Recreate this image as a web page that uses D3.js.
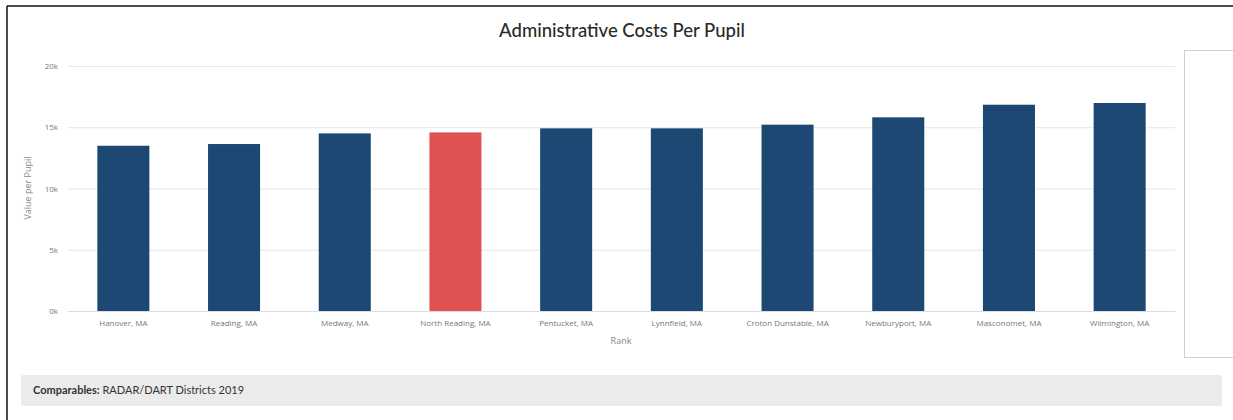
<!DOCTYPE html>
<html>
<head>
<meta charset="utf-8">
<script src="https://cdn.jsdelivr.net/npm/d3@7"></script>
<style>
  html, body { margin: 0; padding: 0; background: #fff; }
  svg { display: block; }
</style>
</head>
<body>
<svg id="chart" width="1233" height="420"></svg>
<script>
const categories = ["Hanover, MA", "Reading, MA", "Medway, MA", "North Reading, MA", "Pentucket, MA",
  "Lynnfield, MA", "Croton Dunstable, MA", "Newburyport, MA", "Masconomet, MA", "Wilmington, MA"];
const values = [13490, 13630, 14500, 14580, 14910, 14910, 15210, 15810, 16840, 16980];
const highlight = "North Reading, MA";
const yTicks = [0, 5000, 10000, 15000, 20000];
const yTickLabels = ["0k", "5k", "10k", "15k", "20k"];

const svg = d3.select("#chart");
const font = "Lato, 'Open Sans', sans-serif";
const smallFont = "'Open Sans', sans-serif";

// outer frame (left and top edges)
svg.append("line").attr("x1", 7).attr("x2", 7).attr("y1", 6).attr("y2", 420)
  .attr("stroke", "#111").attr("stroke-width", 1.5);
svg.append("line").attr("x1", 7).attr("x2", 1233).attr("y1", 6).attr("y2", 6)
  .attr("stroke", "#111").attr("stroke-width", 1.5);

// right side panel
svg.append("rect").attr("x", 1184.5).attr("y", 50.5).attr("width", 60).attr("height", 307)
  .attr("fill", "#fff").attr("stroke", "#cfcfcf").attr("stroke-width", 1);

const x = d3.scaleBand().domain(categories).range([68, 1175]).paddingInner(0.53).paddingOuter(0.265);
const y = d3.scaleLinear().domain([0, 20000]).range([311, 66]);

// title
svg.append("text").attr("x", 622).attr("y", 37).attr("text-anchor", "middle")
  .attr("font-family", font).attr("font-size", 18.5).attr("font-weight", 500).attr("fill", "#2a2a2a")
  .text("Administrative Costs Per Pupil");

// gridlines
const yAxis = d3.axisLeft(y).tickValues(yTicks).tickSize(-(1175 - 68))
  .tickFormat((d, i) => yTickLabels[i]).tickPadding(10);
const gy = svg.append("g").attr("transform", "translate(68,0)").call(yAxis);
gy.select(".domain").remove();
gy.selectAll(".tick line").attr("stroke", "#e6e6e6").attr("stroke-width", 1);
gy.selectAll(".tick text").attr("font-family", smallFont).attr("font-size", 8)
  .attr("fill", "#777").attr("x", -10);

// bars
svg.append("g").selectAll("rect").data(categories).join("rect")
  .attr("x", d => x(d))
  .attr("width", x.bandwidth())
  .attr("y", (d, i) => y(values[i]))
  .attr("height", (d, i) => y(0) - y(values[i]))
  .attr("fill", d => d === highlight ? "#e05252" : "#1c4873");

// x axis
const xAxis = d3.axisBottom(x).tickSize(0).tickPadding(9);
const gx = svg.append("g").attr("transform", "translate(0,311)").call(xAxis);
gx.select(".domain").attr("stroke", "#d8dde6").attr("stroke-width", 1);
gx.selectAll(".tick text").attr("font-family", smallFont).attr("font-size", 8).attr("fill", "#777");

// axis titles
svg.append("text").attr("transform", "translate(31,188) rotate(-90)").attr("text-anchor", "middle")
  .attr("font-family", smallFont).attr("font-size", 9).attr("fill", "#888").text("Value per Pupil");
svg.append("text").attr("x", 621).attr("y", 344).attr("text-anchor", "middle")
  .attr("font-family", smallFont).attr("font-size", 9).attr("fill", "#888").text("Rank");

// footer
svg.append("rect").attr("x", 21).attr("y", 375).attr("width", 1201).attr("height", 31)
  .attr("fill", "#ebebeb").attr("rx", 2);
const ft = svg.append("text").attr("x", 33).attr("y", 394)
  .attr("font-family", font).attr("font-size", 11).attr("fill", "#333");
ft.append("tspan").attr("font-weight", "bold").text("Comparables:");
ft.append("tspan").text(" RADAR/DART Districts 2019");
</script>
</body>
</html>
